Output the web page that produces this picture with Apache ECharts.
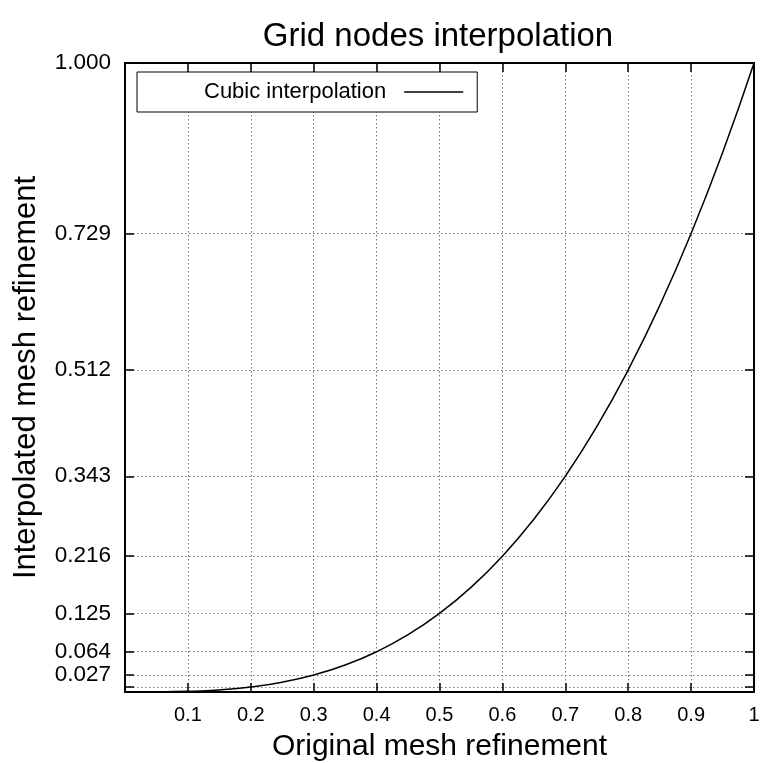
<!DOCTYPE html>
<html><head><meta charset="utf-8">
<script src="https://cdn.jsdelivr.net/npm/echarts@6/dist/echarts.min.js"></script>
<style>html,body{margin:0;padding:0;background:#fff}#c{width:765px;height:763px}</style>
</head><body><div id="c"></div>
<script>
const xValues = [0, 0.05, 0.1, 0.15, 0.2, 0.25, 0.3, 0.35, 0.4, 0.45, 0.5, 0.55, 0.6, 0.65, 0.7, 0.75, 0.8, 0.85, 0.9, 0.95, 1];
const yValues = [0, 0.000125, 0.001, 0.003375, 0.008, 0.015625, 0.027, 0.042875, 0.064, 0.091125, 0.125, 0.166375, 0.216, 0.274625, 0.343, 0.421875, 0.512, 0.614125, 0.729, 0.857375, 1];
const xTicks = [0.1, 0.2, 0.3, 0.4, 0.5, 0.6, 0.7, 0.8, 0.9, 1];
const yTicks = [0.001, 0.008, 0.027, 0.064, 0.125, 0.216, 0.343, 0.512, 0.729, 1];
const yTickLabels = [0.027, 0.064, 0.125, 0.216, 0.343, 0.512, 0.729, 1];
const seriesName = 'Cubic interpolation';

const font = 'Liberation Sans, Arial, Helvetica, sans-serif';
const chart = echarts.init(document.getElementById('c'), null, {renderer: 'canvas'});
const grid = {left: 125, top: 63, right: 11, bottom: 71, containLabel: false, outerBoundsMode: 'none'};

function xAxisCfg(pos, showLabel) {
  return {
    type: 'value', position: pos, min: 0, max: 1,
    axisLine: {show: true, onZero: false, lineStyle: {color: '#000', width: 2}},
    axisTick: {show: true, inside: true, length: 9, customValues: xTicks, lineStyle: {color: '#000', width: 1.5}},
    axisLabel: {show: showLabel, customValues: xTicks, color: '#000', fontSize: 20, fontFamily: font, margin: 13,
      formatter: v => String(Math.round(v * 10) / 10)},
    splitLine: {show: showLabel, lineStyle: {color: '#777', type: [1.5, 2.5], width: 1}},
    name: showLabel ? 'Original mesh refinement' : '',
    nameLocation: 'middle', nameGap: 40,
    nameTextStyle: {color: '#000', fontSize: 30, fontFamily: font}
  };
}
function yAxisCfg(pos, showLabel) {
  return {
    type: 'value', position: pos, min: 0, max: 1,
    axisLine: {show: true, onZero: false, lineStyle: {color: '#000', width: 2}},
    axisTick: {show: true, inside: true, length: 9, customValues: yTicks, lineStyle: {color: '#000', width: 1.5}},
    axisLabel: {show: showLabel, customValues: yTickLabels, color: '#000', fontSize: 22.5, fontFamily: font, margin: 14,
      formatter: v => v.toFixed(3)},
    splitLine: {show: showLabel, lineStyle: {color: '#777', type: [1.5, 2.5], width: 1}},
    name: showLabel ? 'Interpolated mesh refinement' : '',
    nameLocation: 'middle', nameGap: 83, nameRotate: 90,
    nameTextStyle: {color: '#000', fontSize: 31, fontFamily: font}
  };
}

chart.setOption({
  animation: false,
  backgroundColor: '#fff',
  title: {
    text: 'Grid nodes interpolation', left: 433, top: 15, textAlign: 'center',
    textStyle: {color: '#000', fontSize: 33, fontWeight: 'normal', fontFamily: font}
  },
  legend: {
    show: true, left: 137, top: 72, align: 'right', orient: 'horizontal',
    backgroundColor: '#fff', borderColor: '#000', borderWidth: 1,
    padding: [9, 14, 9, 67],
    itemWidth: 59, itemHeight: 1.5,
    icon: 'rect',
    itemStyle: {color: '#000'},
    textStyle: {color: '#000', fontSize: 22, fontFamily: font, padding: [0, 13, 0, 0]},
    data: [seriesName],
    selectedMode: false
  },
  grid: grid,
  xAxis: [xAxisCfg('bottom', true), xAxisCfg('top', false)],
  yAxis: [yAxisCfg('left', true), yAxisCfg('right', false)],
  series: [{
    name: seriesName, type: 'line', xAxisIndex: 0, yAxisIndex: 0,
    data: xValues.map((x, i) => [x, yValues[i]]),
    smooth: true, showSymbol: false, symbol: 'none',
    lineStyle: {color: '#000', width: 1.5},
    itemStyle: {color: '#000'}
  }]
});
</script>
</body></html>
